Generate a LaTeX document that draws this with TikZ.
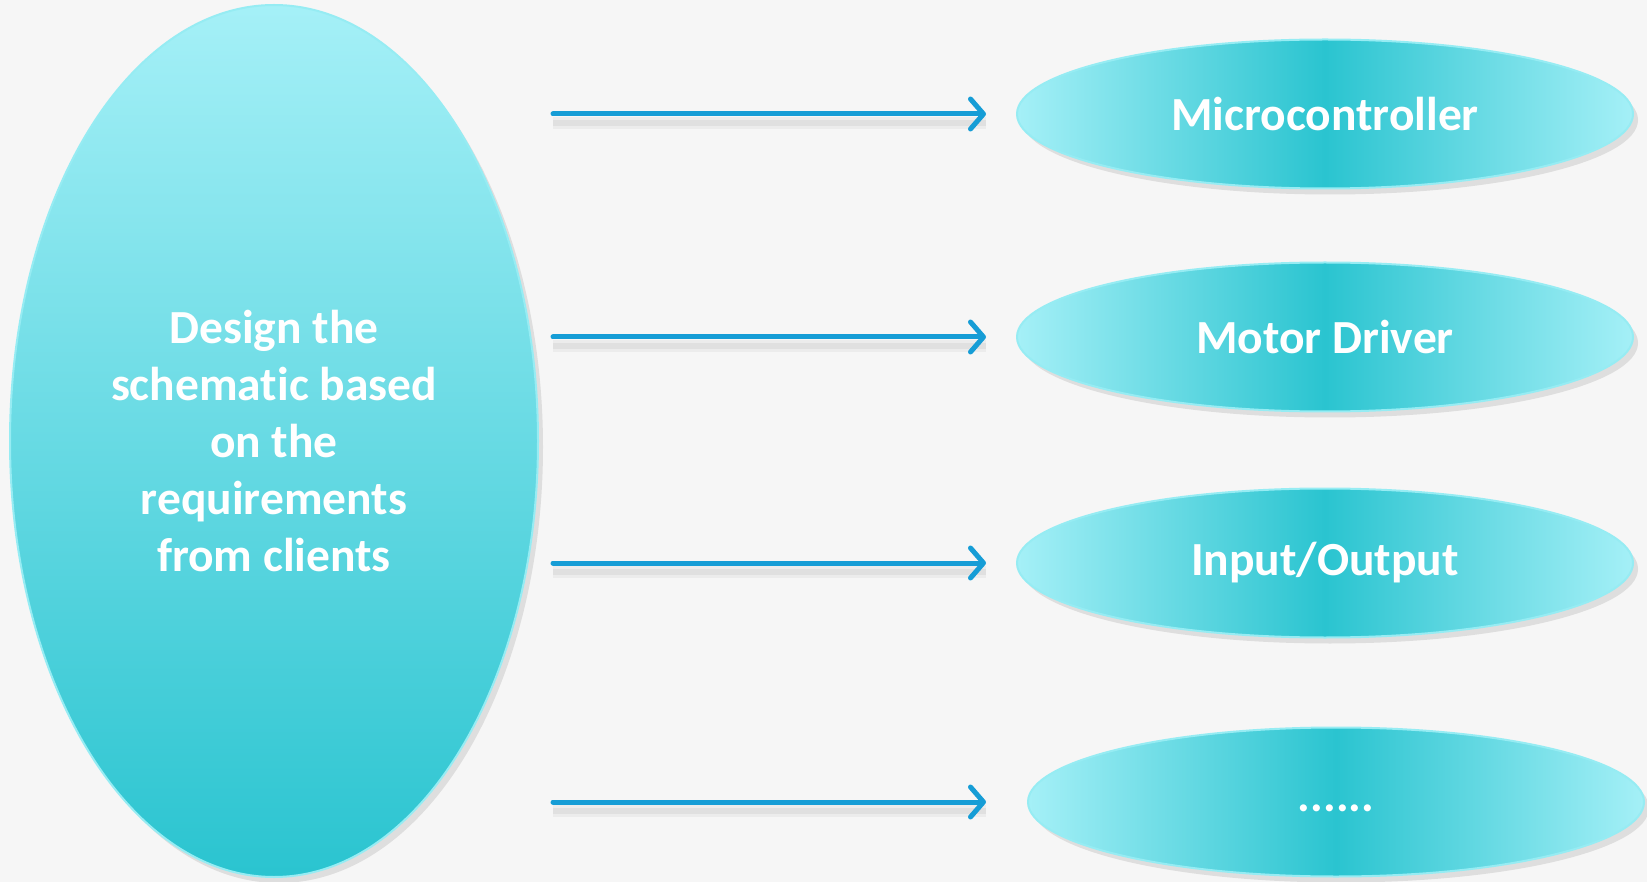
\documentclass[tikz,border=0pt]{standalone}
\usepackage{fontspec}
\setmainfont{Carlito}[RawFeature={-liga;-clig;-dlig;-calt}]
\usetikzlibrary{shapes.geometric,arrows.meta,shadows}
\definecolor{bgc}{RGB}{246,246,246}
\definecolor{cyLight}{RGB}{165,240,247}
\definecolor{cyMid}{RGB}{86,220,230}
\definecolor{cyDark}{RGB}{42,196,208}
\definecolor{rim}{RGB}{150,236,243}
\definecolor{arrc}{RGB}{22,157,214}
\tikzset{
  bigell/.style={ellipse, inner sep=0pt, minimum width=528pt, minimum height=872pt,
    top color=cyLight, bottom color=cyDark, draw=rim, line width=2pt,
    drop shadow={shadow xshift=5pt, shadow yshift=-6pt, opacity=0.2, fill=gray},
    text=white, font=\fontsize{47.5}{57}\selectfont\bfseries, align=center},
  smallell/.style={ellipse, inner sep=0pt, minimum width=616pt, minimum height=149pt,
    left color=cyLight, right color=cyLight, middle color=cyDark, draw=rim, line width=2pt,
    drop shadow={shadow xshift=5pt, shadow yshift=-6pt, opacity=0.2, fill=gray},
    text=white, font=\fontsize{47.5}{57}\selectfont\bfseries},
  linkarrow/.style={draw=arrc, line width=5pt, line cap=round,
    -{Straight Barb[length=13pt, width=30pt, line cap=round, line join=round]},
    preaction={draw=gray, draw opacity=0.08, line width=12pt, transform canvas={yshift=-9pt}, -{}},
    preaction={draw=gray, draw opacity=0.10, line width=6pt, transform canvas={yshift=-9pt}, -{}}}
}
\begin{document}
\begin{tikzpicture}[x=1pt, y=-1pt]
\fill[bgc] (0,0) rectangle (1647,882);
\useasboundingbox (0,0) rectangle (1647,882);
\node[bigell] (big) at (274,441) {Design the\\schematic based\\on the\\requirements\\from clients};
\node[smallell] (m1) at (1325,114) {Microcontroller};
\node[smallell] (m2) at (1325,337) {Motor Driver};
\node[smallell] (m3) at (1325,563) {Input/Output};
\node[smallell] (m4) at (1336,802) {\raisebox{-9pt}[0pt][0pt]{......}};
\draw[linkarrow] ([xshift=14pt]big.east |- m1.west) -- ([xshift=-30pt]m1.west);
\draw[linkarrow] ([xshift=14pt]big.east |- m2.west) -- ([xshift=-30pt]m2.west);
\draw[linkarrow] ([xshift=14pt]big.east |- m3.west) -- ([xshift=-30pt]m3.west);
\draw[linkarrow] ([xshift=14pt]big.east |- m4.west) -- ([xshift=-41pt]m4.west);
\end{tikzpicture}
\end{document}
